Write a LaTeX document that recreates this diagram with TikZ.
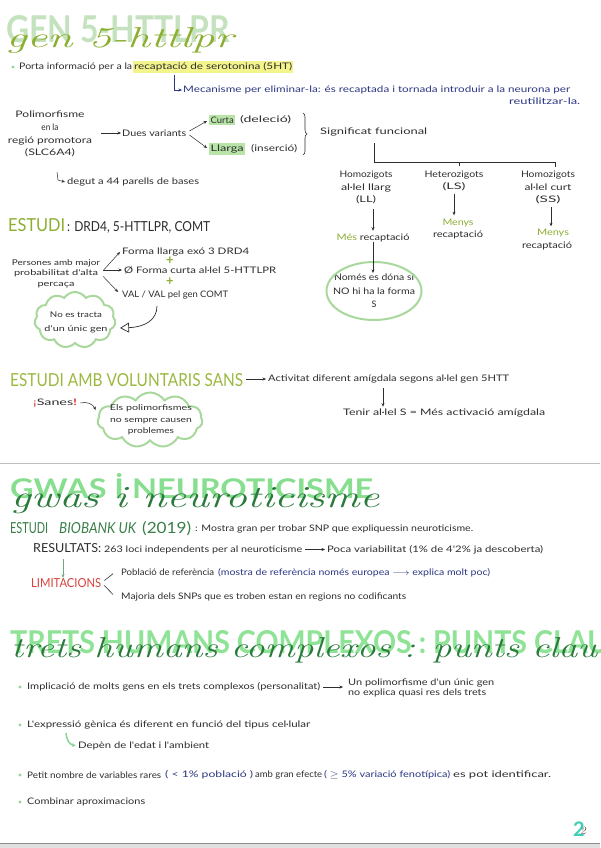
\documentclass[tikz,border=0pt]{standalone}
\usepackage{fontspec}
\usepackage{graphicx}
\newfontfamily\hand{Lato}
\usetikzlibrary{arrows.meta,shapes.symbols,shapes.geometric,decorations.pathreplacing}
\definecolor{ink}{HTML}{2E2E2E}
\definecolor{inkb}{HTML}{2C3784}
\definecolor{olv}{HTML}{8CAF32}
\definecolor{olv2}{HTML}{9BB940}
\definecolor{blkA}{HTML}{C4E2BE}
\definecolor{blkB}{HTML}{86DE8E}
\definecolor{blkC}{HTML}{8FE396}
\definecolor{dgr}{HTML}{2A7A3C}
\definecolor{dgr2}{HTML}{3A7E48}
\definecolor{redc}{HTML}{D8423C}
\definecolor{hly}{HTML}{F4F48C}
\definecolor{gbx}{HTML}{B8E4A8}
\definecolor{cldc}{HTML}{A9D89C}
\definecolor{bulc}{HTML}{8FD69A}
\definecolor{tealc}{HTML}{3ECDB6}
\newcommand{\W}[2]{\resizebox{#1pt}{\height}{#2}}
\begin{document}
\begin{tikzpicture}[x=1pt,y=-1pt,
  txt/.style={font=\hand\fontsize{9}{11}\selectfont, text=ink, inner sep=0pt},
  capf/.style={font=\hand\fontsize{12}{12}\selectfont, text=ink, inner sep=0pt},
  blk/.style={font=\hand\bfseries\fontsize{30}{30}\selectfont, inner sep=0pt},
  curs/.style={font=\itshape\fontsize{30}{30}\selectfont, inner sep=0pt},
  arr/.style={draw=ink, line width=0.5pt, -{Stealth[length=3.5pt,width=3pt]}},
  barr/.style={draw=inkb, line width=0.5pt, -{Stealth[length=3.5pt,width=3pt]}},
  garr/.style={draw=dgr, line width=0.7pt, -{Stealth[length=3.5pt,width=3pt]}},
  ln/.style={draw=ink, line width=0.6pt},
  bul/.style={fill=bulc},
  cloudbox/.style={cloud, cloud puffs=11, cloud puff arc=115, draw=cldc, line width=2pt, inner sep=0pt}
]
\useasboundingbox (0,0) rectangle (600,848);
\fill[white] (0,0) rectangle (600,848);

% ===== Title 1
\node[blk, text=blkA, anchor=base west] (t1a) at (6,43) {\resizebox{224pt}{27pt}{GEN 5-HTTLPR}};
\node[curs, text=olv, anchor=base west] (t1b) at (6,48) {\resizebox{227pt}{20pt}{gen 5-httlpr}};

% bullet 1
\fill[bul] (13,67) circle (1.6);
\node[txt, anchor=west] (b1a) at (19,67) {\W{113}{Porta informació per a la}};
\node[txt, anchor=west, fill=hly, inner xsep=1pt, inner ysep=1.5pt] (b1b) at (133,67) {\W{158}{recaptació de serotonina (5HT)}};
\coordinate (m0) at (174,75);
\node[txt, text=inkb, anchor=west] (mec) at (183,90) {\W{387}{Mecanisme per eliminar-la: és recaptada i tornada introduir a la neurona per}};
\node[txt, text=inkb, anchor=west] (mec2) at (509,101) {\W{71}{reutilitzar-la.}};
\draw[barr] (m0) |- ([xshift=-1pt]mec.west);

% Polimorfisme
\node[txt, align=center, font=\hand\fontsize{9}{12.7}\selectfont] (pol) at (50,134) {\W{69}{Polimorfisme}\\\W{17}{en la}\\\W{84}{regió promotora}\\\W{50}{(SLC6A4)}};
\node[txt, anchor=west] (dues) at (122,133) {\W{64}{Dues variants}};
\draw[arr] ([xshift=9pt]pol.east |- dues.west) -- ([xshift=-1pt]dues.west);
\node[txt, anchor=west] (deg) at (67,182) {\W{132}{degut a 44 parells de bases}};
\coordinate (d0) at (57,172);
\draw[arr] (d0) -- ++(1,8) -- ([xshift=-2pt]deg.west);

\node[txt, anchor=west, fill=gbx, inner xsep=1.5pt, inner ysep=2pt] (curta) at (209,120) {\W{23}{Curta}};
\node[txt, anchor=west] (del) at (240,120) {\W{51}{(deleció)}};
\node[txt, anchor=west, fill=gbx, inner xsep=1.5pt, inner ysep=2pt] (llarga) at (209,149) {\W{33}{Llarga}};
\node[txt, anchor=west] (ins) at (251,149) {\W{46}{(inserció)}};
\draw[arr] ([xshift=3pt,yshift=2pt]dues.east) -- ([xshift=-2pt,yshift=-1pt]curta.west);
\draw[arr] ([xshift=3pt,yshift=-2pt]dues.east) -- ([xshift=-2pt,yshift=1pt]llarga.west);
\draw[ln, decorate, decoration={brace, amplitude=4pt}] (303,113) -- (303,155);
\node[txt, anchor=west] (sig) at (320,132) {\W{107}{Significat funcional}};

% tree
\coordinate (j0) at (374,143);
\coordinate (jL) at (374,162);
\coordinate (jM) at (459,162);
\coordinate (jR) at (555,162);
\draw[ln] (j0) -- (jL) -- (jR) -- ++(0,5);
\draw[ln] (jM) -- ++(0,4);

\node[txt, align=center, font=\hand\fontsize{9}{12.5}\selectfont] (ll) at (366,187.5) {\W{53}{Homozigots}\\\W{50}{al·lel llarg}\\\W{20}{(LL)}};
\node[txt, align=center, font=\hand\fontsize{9}{12.5}\selectfont] (ls) at (454,181) {\W{59}{Heterozigots}\\\W{23}{(LS)}};
\node[txt, align=center, font=\hand\fontsize{9}{12.5}\selectfont] (ss) at (548,187.5) {\W{54}{Homozigots}\\\W{47}{al·lel curt}\\\W{25}{(SS)}};

\node[txt] (mes) at (373,238) {\W{73}{{\color{olv}Més} recaptació}};
\node[txt, align=center, font=\hand\fontsize{9}{12}\selectfont] (menys1) at (458,229.5) {\W{31}{\color{olv}Menys}\\\W{50}{recaptació}};
\node[txt, align=center, font=\hand\fontsize{9}{13}\selectfont] (menys2) at (547,240) {\hspace*{12pt}\W{32}{\color{olv}Menys}\\\W{50}{recaptació}};
\draw[arr, shorten <=5pt, shorten >=3pt] (mes.north |- ll.south) -- (mes.north);
\draw[arr, shorten <=3pt, shorten >=4pt] (ls.south) -- (ls.south |- menys1.north);
\draw[arr, shorten <=3pt, shorten >=3pt] ([xshift=3pt]ss.south) -- ([xshift=3pt]ss.south |- menys2.north);

\node[txt, align=center, font=\hand\fontsize{9}{13.5}\selectfont] (nom) at (374,291) {\W{80}{Només es dóna si}\\\W{82}{NO hi ha la forma}\\S};
\node[ellipse, draw=cldc, line width=2pt, minimum width=95pt, minimum height=58pt, inner sep=0pt] (elp) at (374,291) {};
\draw[arr, shorten >=1pt] (mes.south) -- (nom.north -| mes.south);

% ESTUDI DRD4
\node[capf, text=olv, anchor=base west] (e1a) at (8,231) {\resizebox{57pt}{13pt}{ESTUDI}};
\node[capf, anchor=base west] (e1b) at (67,231) {\resizebox{143pt}{10pt}{: DRD4, 5-HTTLPR, COMT}};

\node[txt, align=center, font=\hand\fontsize{8}{10.5}\selectfont] (pers) at (56,273.5) {\W{88}{Persones amb major}\\\W{84}{probabilitat d'alta}\\\W{37}{percaça}};
\node[txt, anchor=west] (f1) at (122,252) {\W{127}{Forma llarga exó 3 DRD4}};
\node[txt, anchor=west] (f2) at (124,270) {\W{152}{Ø Forma curta al·lel 5-HTTLPR}};
\node[txt, anchor=west] (f3) at (122,295) {\W{106}{VAL / VAL pel gen COMT}};
\node[font=\hand\bfseries\fontsize{13}{13}\selectfont, text=olv, inner sep=0pt] (p1) at (170,261) {+};
\node[font=\hand\bfseries\fontsize{13}{13}\selectfont, text=olv, inner sep=0pt] (p2) at (170,282) {+};
\draw[arr] ([xshift=3pt,yshift=3pt]pers.east) -- ([xshift=-2pt]f1.west);
\draw[arr] ([xshift=3pt]pers.east |- f2.west) -- ([xshift=-2pt]f2.west);
\draw[arr] ([xshift=3pt,yshift=-3pt]pers.east) -- ([xshift=-4pt,yshift=3pt]f3.west);

\node[cloudbox, aspect=1.45, minimum width=81pt, minimum height=56pt] (cl1) at (75,320) {};
\node[txt, align=center, font=\hand\fontsize{8}{14}\selectfont] (cl1t) at (76,322.5) {\W{52}{No es tracta}\\\W{63}{d'un únic gen}};
\coordinate (ca0) at (157,306);
\draw[draw=ink, line width=0.7pt, -{Triangle[open, length=9pt, width=10pt]}] (ca0) .. controls (157,320) and (145,327) .. ([xshift=4pt,yshift=-8pt]cl1.east);

% ESTUDI AMB VOLUNTARIS SANS
\node[capf, text=olv2, anchor=base west] (e2) at (10,386) {\resizebox{233pt}{13pt}{ESTUDI AMB VOLUNTARIS SANS}};
\node[txt, anchor=west] (act) at (268,379) {\W{241}{Activitat diferent amígdala segons al·lel gen 5HTT}};
\draw[arr] ([xshift=3pt]e2.east |- act.west) -- ([xshift=-2pt]act.west);
\coordinate (a1) at (383,388);
\node[txt, anchor=west] (ten) at (343,413) {\W{202}{Tenir al·lel S = Més activació amígdala}};
\draw[arr, shorten >=2pt] (a1) -- (a1 |- ten.north);
\node[txt, anchor=west] (san) at (33,403) {\W{44}{{\color{redc}¡}Sanes{\color{redc}\bfseries !}}};
\node[cloudbox, aspect=1.9, minimum width=105pt, minimum height=55pt] (cl2) at (150,420) {};
\node[txt, align=center, font=\hand\fontsize{8}{11.5}\selectfont] (cl2t) at (151,420) {\W{82}{Els polimorfismes}\\\W{82}{no sempre causen}\\\W{46}{problemes}};
\draw[arr] ([xshift=3pt]san.east) to[bend left=40] ([xshift=-1pt,yshift=10pt]cl2.west);

% separator
\draw[black!25, line width=0.8pt] (0,463) -- (600,463);

% ===== GWAS
\node[blk, text=blkB, anchor=base west] (t2a) at (10,498) {\resizebox{363pt}{25pt}{GWAS İ NEUROTICISME}};
\node[curs, text=dgr, anchor=base west] (t2b) at (11,507) {\resizebox{368pt}{20pt}{gwas i neuroticisme}};

\node[capf, text=dgr2, anchor=base west] (e3a) at (10,533) {\resizebox{38pt}{11pt}{ESTUDI}};
\node[capf, text=dgr2, anchor=base west] (e3b) at (59,533) {\resizebox{77pt}{11pt}{\itshape BIOBANK UK}};
\node[capf, text=dgr2, anchor=base west] (e3c) at (142,533) {\resizebox{49pt}{12pt}{(2019)}};
\node[txt, anchor=base west] (e3d) at (195,531) {\W{278}{: Mostra gran per trobar SNP que expliquessin neuroticisme.}};

\node[capf, anchor=base west] (res) at (33,552) {\resizebox{68pt}{9pt}{RESULTATS:}};
\node[txt, anchor=base west] (r1) at (104,552) {\W{198}{263 loci independents per al neuroticisme}};
\node[txt, anchor=base west] (r2) at (327,552) {\W{216}{Poca variabilitat (1\% de 4'2\% ja descoberta)}};
\draw[arr] ([xshift=3pt]r1.east) -- ([xshift=-2pt]r2.west |- r1.east);
\coordinate (g0) at (63,559);
\node[capf, text=redc, anchor=base west] (lim) at (31,587) {\resizebox{70pt}{9pt}{LIMITACIONS}};
\draw[garr, draw=bulc!80!black] (g0) -- (g0 |- lim.north);
\node[txt, anchor=base west] (pop) at (121,575) {\W{93}{Població de referència}};
\node[txt, text=inkb, anchor=base west] (pop2) at (218,575) {\W{272}{(mostra de referència només europea $\longrightarrow$ explica molt poc)}};
\node[txt, anchor=base west] (maj) at (121,599) {\W{285}{Majoria dels SNPs que es troben estan en regions no codificants}};
\draw[ln] ([xshift=3pt,yshift=2pt]lim.east) -- ([xshift=-8pt,yshift=-2pt]pop.west);
\draw[ln] ([xshift=3pt,yshift=-3pt]lim.east) -- ([xshift=-8pt,yshift=2pt]maj.west);

% ===== TRETS
\node[blk, text=blkC, anchor=base west] (t3a) at (10,653) {\resizebox{598pt}{23pt}{TRETS HUMANS COMPLEXOS : PUNTS CLAU}};
\node[curs, text=dgr, anchor=base west] (t3b) at (11,657) {\resizebox{586pt}{20pt}{trets humans complexos : punts clau}};

\fill[bul] (20,687) circle (1.6);
\node[txt, anchor=west] (i1) at (27,687) {\W{293}{Implicació de molts gens en els trets complexos (personalitat)}};
\node[txt, align=left, anchor=west, font=\hand\fontsize{9}{10.5}\selectfont] (i2) at (348,688) {\W{146}{Un polimorfisme d'un únic gen}\\\W{138}{no explica quasi res dels trets}};
\draw[arr] ([xshift=3pt]i1.east) -- ([xshift=-5pt]i2.west |- i1.east);

\fill[bul] (20,725) circle (1.6);
\node[txt, anchor=west] (j1) at (27,725) {\W{283}{L'expressió gènica és diferent en funció del tipus cel·lular}};
\node[txt, anchor=west] (dep) at (78,746) {\W{131}{Depèn de l'edat i l'ambient}};
\coordinate (h0) at (66,733);
\draw[draw=bulc, line width=1.6pt, -{Stealth[length=4pt,width=4pt]}] (h0) .. controls (67,741) and (69,744) .. ([xshift=-2pt]dep.west);

\fill[bul] (20,775) circle (1.6);
\node[txt, anchor=west] (k1) at (27,775) {\W{134}{Petit nombre de variables rares}};
\node[txt, text=inkb, anchor=west] (k2) at (165,775) {\W{88}{( < 1\% població )}};
\node[txt, anchor=west] (k3) at (255,775) {\W{67}{amb gran efecte}};
\node[txt, text=inkb, anchor=west] (k4) at (324,775) {\W{126}{( $\geq$ 5\% variació fenotípica)}};
\node[txt, anchor=west] (k5) at (453,775) {\W{98}{es pot identificar.}};

\fill[bul] (20,802) circle (1.6);
\node[txt, anchor=west] (l1) at (27,802) {\W{118}{Combinar aproximacions}};

% page number and edge
\node[font=\hand\bfseries\fontsize{20}{20}\selectfont, text=tealc, inner sep=0pt] (pg) at (579,829) {2};
\node[font=\itshape\fontsize{11}{11}\selectfont, text=ink, inner sep=0pt] (pg2) at (583,831) {2};
\fill[black!12] (0,843) rectangle (600,848);
\draw[black!45, line width=0.6pt] (0,843) -- (600,843);
\end{tikzpicture}
\end{document}
